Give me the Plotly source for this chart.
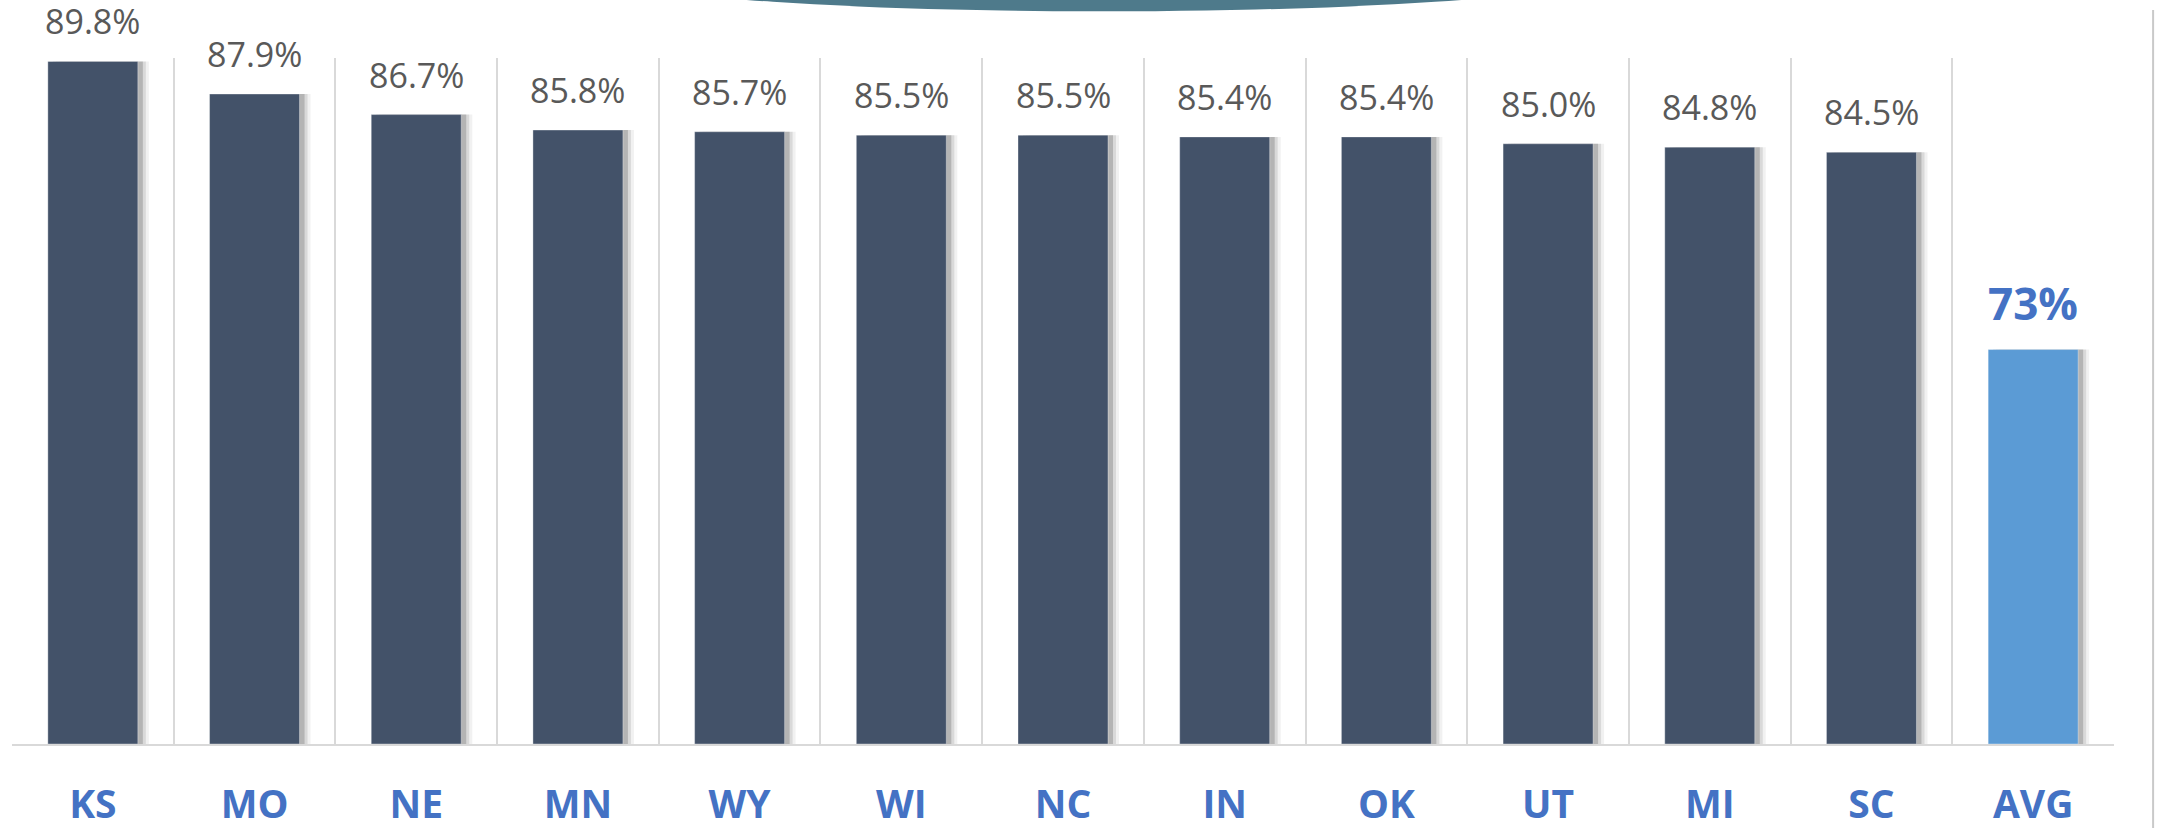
import plotly.graph_objects as go

states = ["KS", "MO", "NE", "MN", "WY", "WI", "NC", "IN", "OK", "UT", "MI", "SC", "AVG"]
values = [89.8, 87.9, 86.7, 85.8, 85.7, 85.5, 85.5, 85.4, 85.4, 85.0, 84.8, 84.5, 73.0]
labels = ["89.8%", "87.9%", "86.7%", "85.8%", "85.7%", "85.5%", "85.5%", "85.4%", "85.4%",
          "85.0%", "84.8%", "84.5%", "73%"]

DARK = "#435269"
AVGC = "#5B9BD5"
BLUE = "#4472C4"
colors = [AVGC if s == "AVG" else DARK for s in states]

px = 1 / 161.7          # one pixel in category units
W = 90 * px             # bar width
OFF = -W / 2

fig = go.Figure()

# soft drop shadow to the right of every bar
for shift, alpha in [(11, 0.07), (8, 0.12), (5, 0.22)]:
    fig.add_trace(go.Bar(
        x=states, y=[v - 50 for v in values], base=50,
        width=W, offset=OFF + shift * px,
        marker=dict(color=f"rgba(50,50,50,{alpha})", line=dict(width=0)),
        hoverinfo="skip", showlegend=False))

fig.add_trace(go.Bar(
    x=states, y=[v - 50 for v in values], base=50,
    width=W, offset=OFF,
    marker=dict(color=colors, line=dict(color="rgba(255,255,255,0.35)", width=1)),
    showlegend=False))

for s, v, t in zip(states, values, labels):
    is_avg = s == "AVG"
    fig.add_annotation(
        x=s, y=v, text=t, showarrow=False, yanchor="bottom", yshift=15,
        font=dict(family="Open Sans", size=44 if is_avg else 34,
                  color=BLUE if is_avg else "#595959",
                  weight="bold" if is_avg else "normal"))

# decorative arc at the top
fig.add_shape(type="circle", xref="paper", yref="paper",
              x0=0.2712, x1=0.7678, y0=1.068, y1=1.19,
              fillcolor="#4E7A8B", line=dict(width=0), layer="above")
# slide frame edge on the right
fig.add_shape(type="line", xref="paper", yref="paper",
              x0=1.0186, x1=1.0186, y0=-0.13, y1=1.07,
              line=dict(color="#C9C9C9", width=2))

fig.update_layout(
    width=2164, height=828,
    margin=dict(l=12, r=50, t=58, b=84, autoexpand=False),
    paper_bgcolor="white", plot_bgcolor="white",
    barmode="overlay",
    xaxis=dict(
        type="category", tickson="boundaries", ticks="",
        showgrid=True, gridcolor="#D9D9D9", gridwidth=1.5,
        showline=True, linecolor="#D9D9D9", linewidth=2,
        tickfont=dict(family="Open Sans", size=39, color=BLUE, weight="bold"),
        ticklabelstandoff=25, automargin=False,
    ),
    yaxis=dict(visible=False, range=[50, 90], automargin=False),
)

fig.write_html("out.html", config={"displayModeBar": False},
               post_script="document.body.style.margin='0';")
